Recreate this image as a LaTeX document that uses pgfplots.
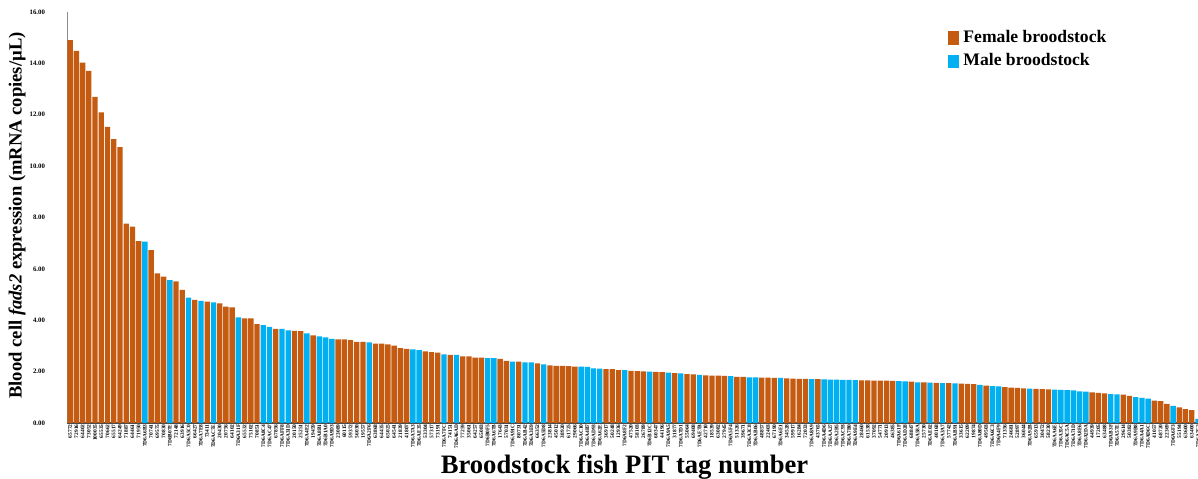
\documentclass[border=0pt]{standalone}
\usepackage{pgfplots}
\pgfplotsset{compat=1.18}
\usepackage{fontspec}
\setmainfont{Liberation Serif}

\definecolor{femalec}{HTML}{C55A11}
\definecolor{malec}{HTML}{00B0F0}

\pgfplotsset{
  sqlegend/.style={legend image code/.code={\fill[##1] (0pt,-3.3pt) rectangle (5.5pt,3.3pt);}},
}

\begin{document}
\begin{tikzpicture}
\begin{axis}[
  scale only axis,
  width=565.5pt, height=205.5pt,
  ybar, bar width=0.86,
  xmin=0.5, xmax=182, ymin=0, ymax=16,
  axis x line*=bottom, axis y line*=left,
  x axis line style={draw=black!70, line width=1.1pt},
  y axis line style={draw=black!45, line width=0.5pt},
  major tick length=0pt,
  ytick={0,2,...,16},
  yticklabel style={font=\bfseries\fontsize{3.4}{4}\selectfont, xshift=-7.5pt,
    /pgf/number format/.cd, fixed, fixed zerofill, precision=2, assume math mode=true},
  xtick={1,...,182},
  xticklabels={65772,72916,64402,73052,100035,65535,70662,65517,64249,71887,
    64461,71950,7D6A6B3,70741,69575,70830,7D6B07E,72148,63916,7D6A5C0,
    66427,7D6A7E8,73411,7D6AC7E,20430,20756,64102,7D6A31F,65532,75102,
    70851,7D6A8C4,7D6AC47,67856,7D6AFF8,7D6A31D,20150,25251,7D6A4E2,19459,
    7D6A8B1,7D6B1A0,7D6A9D3,23089,60115,59372,56030,19557,7D6A2F6,63868,
    64435,65025,64541,21839,41807,7D6A7A3,7D6AE35,53304,57317,73191,
    7D6A7FC,74151,7D6A6AD,77259,35061,64257,65083,7D6B0F5,7D6A67B,17643,
    57031,7D6A91C,80731,7D6AB42,7D6A3E9,66352,7D6A5D8,23814,45012,38920,
    61725,29066,7D6AC10,7D6A4B7,7D6AD93,7D6A62E,36917,50248,12936,7D6A8F2,
    47520,58103,26789,7D6B12C,60347,44196,7D6A9A5,31877,7D6A7D1,55064,
    69408,7D6AE7B,42710,18539,63082,27945,7D6A5F4,51326,39671,7D6A3C8,
    7D6AB06,48857,22403,67190,7D6A6E1,34528,59917,16284,72033,7D6A8A9,
    43765,7D6A4D6,7D6AA27,7D6A2B5,7D6AC93,7D6A7B0,7D6A9E4,28460,61538,37092,
    54771,20913,46385,7D6A61F,7D6AD28,68847,7D6A58A,25730,7D6AE02,40168,
    7D6A3A7,57742,7D6AB91,33615,62209,19874,7D6A80D,49503,7D6A6C3,7D6A4F9,
    71356,24681,52897,36044,7D6A92B,65913,30472,58230,7D6AA6E,7D6A35C,
    7D6AC5A,7D6A71D,7D6A8E6,7D6A2DA,44939,17205,63488,7D6AB3F,7D6A57E,29614,
    50382,7D6A9B8,7D6A4A1,7D6AD6C,41057,68720,22369,7D6A6F3,55194,63600,
    63400,7D6A7C2},
  xticklabel style={rotate=90, anchor=east, inner sep=0.6pt,
    font=\bfseries\fontsize{2.7}{3}\selectfont},
  xlabel={Broodstock fish PIT tag number},
  xlabel style={at={(axis description cs:0.493,-0.107)}, anchor=center,
    font=\bfseries\fontsize{13.3}{16}\selectfont},
  ylabel={Blood cell \textit{fads2} expression (mRNA copies/µL)},
  ylabel style={at={(axis description cs:-0.0442,0.505)}, anchor=center, rotate=0,
    font=\bfseries\fontsize{9.3}{11}\selectfont},
  legend style={at={(axis description cs:0.779,0.966)}, anchor=north west,
    draw=none, fill=none, inner sep=0pt, row sep=0pt,
    font=\bfseries\fontsize{8.8}{10}\selectfont},
  legend cell align=left,
]
% Female broodstock
\addplot[fill=femalec, draw=none, bar shift=0pt, sqlegend] coordinates {
(1,14.90)(2,14.49)(3,14.03)(4,13.71)(5,12.70)(6,12.09)(7,11.53)(8,11.05)(9,10.74)(10,7.76)
(11,7.64)(12,7.08)(14,6.73)(15,5.82)(16,5.70)(18,5.51)(19,5.18)(21,4.79)(23,4.72)(25,4.66)
(26,4.53)(27,4.50)(29,4.07)(30,4.07)(31,3.85)(34,3.66)(37,3.59)(38,3.58)(40,3.41)(44,3.26)
(45,3.26)(46,3.23)(47,3.16)(48,3.16)(50,3.09)(51,3.09)(52,3.06)(53,3.01)(54,2.91)(55,2.89)
(58,2.79)(59,2.76)(60,2.74)(62,2.65)(64,2.59)(65,2.59)(66,2.54)(67,2.54)(70,2.50)(71,2.42)
(73,2.39)(76,2.32)(78,2.24)(79,2.22)(80,2.22)(81,2.21)(82,2.19)(87,2.10)(88,2.10)(89,2.06)
(91,2.03)(92,2.02)(93,2.01)(95,1.99)(96,1.98)(98,1.94)(100,1.90)(101,1.89)(103,1.85)(104,1.84)
(105,1.84)(106,1.83)(108,1.80)(109,1.80)(112,1.77)(113,1.77)(114,1.76)(116,1.74)(117,1.73)(118,1.72)
(119,1.72)(121,1.71)(128,1.66)(129,1.66)(130,1.65)(131,1.65)(132,1.65)(133,1.64)(136,1.61)(138,1.58)
(140,1.56)(142,1.55)(144,1.53)(145,1.52)(146,1.51)(148,1.45)(151,1.40)(152,1.38)(153,1.37)(154,1.35)
(156,1.33)(157,1.32)(158,1.31)(165,1.19)(166,1.17)(167,1.15)(170,1.10)(171,1.06)(175,0.87)(176,0.85)
(177,0.74)(179,0.61)(180,0.54)(181,0.50)
};
\addlegendentry{Female broodstock}
% Male broodstock
\addplot[fill=malec, draw=none, bar shift=0pt, sqlegend] coordinates {
(13,7.06)(17,5.56)(20,4.88)(22,4.75)(24,4.70)(28,4.11)(32,3.81)(33,3.74)(35,3.66)(36,3.61)
(39,3.49)(41,3.37)(42,3.33)(43,3.27)(49,3.14)(56,2.87)(57,2.84)(61,2.67)(63,2.65)(68,2.53)
(69,2.53)(72,2.39)(74,2.36)(75,2.36)(77,2.28)(83,2.19)(84,2.18)(85,2.13)(86,2.12)(90,2.06)
(94,2.00)(97,1.96)(99,1.93)(102,1.87)(107,1.82)(110,1.78)(111,1.78)(115,1.76)(120,1.71)(122,1.70)
(123,1.69)(124,1.69)(125,1.68)(126,1.68)(127,1.67)(134,1.63)(135,1.62)(137,1.58)(139,1.57)(141,1.55)
(143,1.54)(147,1.48)(149,1.44)(150,1.43)(155,1.34)(159,1.30)(160,1.29)(161,1.28)(162,1.27)(163,1.23)
(164,1.22)(168,1.12)(169,1.11)(172,1.01)(173,0.98)(174,0.95)(178,0.67)(182,0.16)
};
\addlegendentry{Male broodstock}
\end{axis}
\pgfresetboundingbox
\useasboundingbox ([shift={(-33.5pt,-28pt)}]current axis.south west)
  rectangle ([shift={(0pt,6pt)}]current axis.north east);
\end{tikzpicture}
\end{document}
